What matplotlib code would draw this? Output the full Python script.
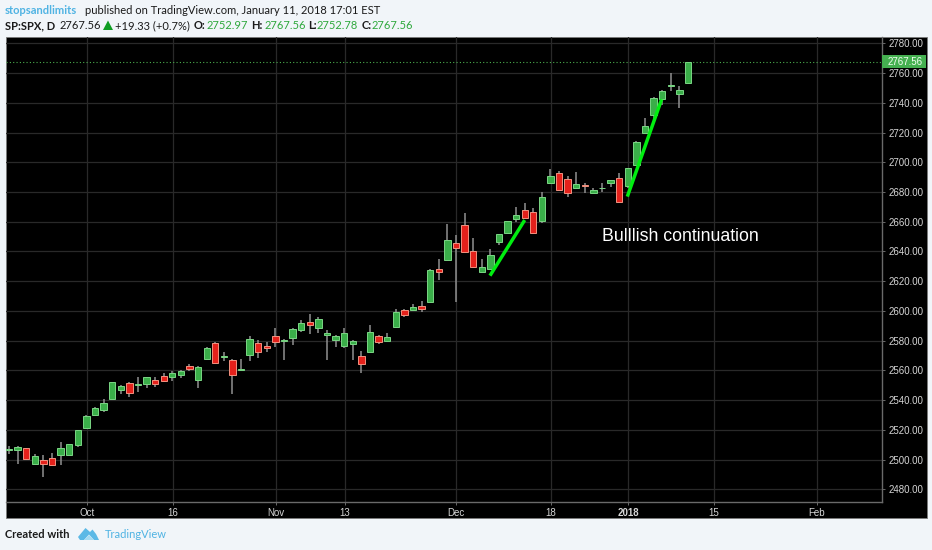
import matplotlib
matplotlib.use("Agg")
import matplotlib.pyplot as plt
from matplotlib.patches import Rectangle, Polygon
import numpy as np

# ---- data (daily candles) ----
opens = [2506.5, 2506.7, 2507.6, 2497.3, 2499.5, 2501.0, 2503.1, 2503.3, 2509.8, 2521.2,
         2530.2, 2533.1, 2540.7, 2547.0, 2551.5, 2550.4, 2550.8, 2553.3, 2556.2, 2555.3,
         2557.1, 2562.9, 2553.7, 2567.4, 2578.2, 2569.0, 2566.8, 2560.2, 2570.3, 2578.2,
         2576.6, 2583.3, 2579.8, 2582.0, 2587.2, 2592.3, 2588.7, 2583.8, 2580.2, 2576.6,
         2578.0, 2569.4, 2572.6, 2583.3, 2579.5, 2589.0, 2600.6, 2600.4, 2603.3, 2605.8,
         2628.2, 2634.2, 2645.5, 2657.6, 2640.1, 2626.0, 2628.2, 2646.6, 2652.2, 2661.8,
         2667.9, 2666.3, 2660.2, 2685.8, 2693.0, 2688.5, 2682.9, 2684.5, 2679.5, 2682.5,
         2686.3, 2689.4, 2684.0, 2698.2, 2719.5, 2731.6, 2742.8, 2751.6, 2745.7, 2753.0]
highs = [2509.1, 2509.4, 2508.0, 2503.5, 2502.9, 2504.2, 2512.0, 2510.6, 2520.0, 2530.0,
         2535.2, 2540.5, 2552.5, 2550.0, 2552.0, 2555.8, 2555.8, 2555.8, 2558.0, 2559.6,
         2560.0, 2564.0, 2562.7, 2575.7, 2579.0, 2572.1, 2567.7, 2567.4, 2583.3, 2580.4,
         2578.9, 2588.7, 2580.9, 2588.3, 2593.9, 2597.7, 2595.7, 2587.2, 2584.0, 2588.3,
         2580.4, 2573.0, 2590.5, 2583.5, 2585.4, 2601.5, 2601.3, 2604.4, 2606.7, 2628.0,
         2635.0, 2658.5, 2651.0, 2665.6, 2648.8, 2634.7, 2641.6, 2651.8, 2660.8, 2670.1,
         2672.4, 2669.0, 2679.8, 2695.2, 2694.3, 2691.0, 2693.2, 2685.8, 2682.9, 2685.8,
         2688.0, 2692.5, 2696.0, 2714.5, 2729.5, 2743.6, 2748.4, 2759.8, 2751.3, 2767.56]
lows = [2503.7, 2497.0, 2499.7, 2497.0, 2488.5, 2495.7, 2496.4, 2503.0, 2508.7, 2520.8,
        2529.3, 2532.2, 2540.5, 2544.1, 2541.9, 2545.7, 2548.4, 2549.0, 2552.4, 2553.1,
        2555.0, 2559.8, 2548.4, 2567.0, 2565.0, 2566.5, 2544.1, 2560.0, 2566.3, 2568.6,
        2572.6, 2575.5, 2567.0, 2577.1, 2586.0, 2584.7, 2585.4, 2567.0, 2576.0, 2574.8,
        2567.0, 2558.5, 2572.6, 2578.0, 2578.9, 2588.7, 2596.0, 2600.2, 2599.5, 2605.5,
        2620.8, 2634.2, 2606.2, 2639.4, 2628.6, 2626.0, 2627.5, 2644.5, 2652.0, 2660.0,
        2662.3, 2651.7, 2659.3, 2685.8, 2681.3, 2676.8, 2682.4, 2679.1, 2679.1, 2679.8,
        2683.6, 2673.5, 2682.4, 2697.7, 2719.4, 2727.0, 2738.5, 2748.1, 2736.7, 2752.78]
closes = [2507.2, 2508.7, 2500.6, 2502.2, 2496.8, 2496.6, 2507.6, 2510.3, 2519.7, 2529.5,
          2534.7, 2538.3, 2552.2, 2549.7, 2545.0, 2550.7, 2555.5, 2550.6, 2553.1, 2558.0,
          2559.8, 2561.1, 2562.5, 2575.3, 2565.2, 2569.5, 2557.1, 2560.7, 2580.9, 2572.6,
          2574.8, 2579.1, 2580.1, 2588.0, 2591.6, 2590.7, 2594.6, 2585.4, 2582.9, 2584.9,
          2579.5, 2564.5, 2585.6, 2578.9, 2582.2, 2599.0, 2597.2, 2602.4, 2601.3, 2627.5,
          2626.0, 2647.7, 2642.3, 2639.4, 2629.5, 2629.8, 2637.4, 2651.7, 2660.5, 2664.5,
          2662.7, 2652.2, 2676.4, 2690.5, 2681.5, 2679.5, 2685.1, 2683.8, 2681.1, 2682.9,
          2687.8, 2673.5, 2695.9, 2713.4, 2724.2, 2743.4, 2748.1, 2751.8, 2748.6, 2767.56]

y_ticks = [2480, 2500, 2520, 2540, 2560, 2580, 2600, 2620, 2640, 2660,
           2680, 2700, 2720, 2740, 2760, 2780]
x_ticks = [9.1, 19.1, 31.05, 39.05, 52.05, 63.05, 72.05, 82, 94]
x_labels = ["Oct", "16", "Nov", "13", "Dec", "18", "2018", "15", "Feb"]
last_price = 2767.56
trend_x = [[55.96, 60.0], [71.94, 75.93]]
trend_y = [[2623.7, 2661.1], [2676.9, 2742.3]]

# ---- layout ----
W, H = 932, 550
BG = "#f1f5f9"
UP, UP_EDGE = "#3aae49", "#7ad684"
DN, DN_EDGE = "#e4211b", "#f29280"
WICK = "#909090"
AXC = "#6a6a6a"
GRID = "#292929"
LBL = "#d6d6d6"
SANS = "Lato"
ARIAL = "Liberation Sans"

fig = plt.figure(figsize=(W / 100, H / 100), dpi=100, facecolor=BG)

# pixel-space layers
under = fig.add_axes([0, 0, 1, 1], zorder=0)
under.set_xlim(0, W); under.set_ylim(H, 0); under.axis("off")
under.add_patch(Rectangle((5.5, 37), 921, 481, fc="black", ec="#7a7a7a", lw=0.6))

AX_L, AX_R, AX_T, AX_B = 5.5, 882, 37.3, 502.3
ax = fig.add_axes([AX_L / W, 1 - AX_B / H, (AX_R - AX_L) / W, (AX_B - AX_T) / H], zorder=1)
ax.set_facecolor("none")
ax.set_xlim((AX_L - 9) / 8.595, (AX_R - 9) / 8.595)
ax.set_ylim(2780 - (AX_B - 43.3) / 1.4867, 2780 + (43.3 - AX_T) / 1.4867)

ax.yaxis.tick_right()
ax.set_yticks(y_ticks)
ax.set_yticklabels([f"{v:.2f}" for v in y_ticks], fontsize=7.0, color=LBL, family=ARIAL)
ax.set_xticks(x_ticks)
ax.set_xticklabels(x_labels, fontsize=7.0, color=LBL, family=ARIAL)
for lab in ax.get_xticklabels():
    if lab.get_text() == "2018":
        lab.set_fontweight("bold")
ax.tick_params(axis="y", length=2.2, width=0.7, color=AXC, pad=2.5)
ax.tick_params(axis="x", length=2.2, width=0.7, color=AXC, pad=2.2)
ax.grid(True, color=GRID, lw=0.9)
ax.set_axisbelow(True)
for s in ("top", "left"):
    ax.spines[s].set_visible(False)
for s in ("right", "bottom"):
    ax.spines[s].set_color(AXC)
    ax.spines[s].set_linewidth(1.0)

# candles
idx = np.arange(len(closes))
o, h, l, c = map(np.array, (opens, highs, lows, closes))
up = c >= o
ax.vlines(idx, l, h, color=WICK, lw=1.1, zorder=3)
ax.bar(idx[up], (c - o)[up], bottom=o[up], width=0.74, color=UP, edgecolor=UP_EDGE, lw=0.7, zorder=4)
ax.bar(idx[~up], (c - o)[~up], bottom=o[~up], width=0.74, color=DN, edgecolor=DN_EDGE, lw=0.7, zorder=4)

# trend lines and last price line
for tx, ty in zip(trend_x, trend_y):
    ax.plot(tx, ty, color="#00ee10", lw=2.5, solid_capstyle="butt", zorder=5)
ax.axhline(last_price, color="#4caf50", lw=0.8, ls=(0, (1, 2)), zorder=2)

# overlay pixel-space items
top = fig.add_axes([0, 0, 1, 1], zorder=2)
top.set_facecolor("none")
top.set_xlim(0, W); top.set_ylim(H, 0); top.axis("off")

top.text(602, 236.5, "Bulllish continuation", color="white", fontsize=12.8, family=ARIAL, va="center", ha="left")

top.add_patch(Rectangle((882, 55), 44, 13.3, fc="#45b050", ec="none"))
top.text(887.7, 61.8, f"{last_price:.2f}", color="#f2fff2", fontsize=7.0, family=ARIAL, va="center", ha="left")

def t(x, y, s, size, color="#1a1a1a", weight="normal"):
    return top.text(x, y, s, color=color, fontsize=size, family=SANS, fontweight=weight, va="center", ha="left")

def fit_size(s, width_px, start=9.0):
    # font size at which s is width_px wide
    probe = top.text(0, 0, s, fontsize=start, family=SANS)
    w = probe.get_window_extent(fig.canvas.get_renderer()).width
    probe.remove()
    return start * width_px / w

BLUE = "#4fb3e3"
GREEN = "#2ea83c"
line1 = "published on TradingView.com, January 11, 2018 17:01 EST"
fs = fit_size(line1, 294)
t(5, 10, "stopsandlimits", fs, color=BLUE, weight="bold")
t(85, 10, line1, fs)
t(5, 25.5, "SP:SPX, D", fs, weight="bold")
t(60, 25.5, "2767.56", fs)
top.add_patch(Polygon([(103, 30), (113, 30), (108, 20.5)], fc="#0f9d23", ec="none"))
t(115, 25.5, "+19.33 (+0.7%)", fs)
for xl, lb, xv, val in [(194, "O:", 207, "2752.97"), (251, "H:", 265, "2767.56"),
                        (308, "L:", 317, "2752.78"), (362, "C:", 372, "2767.56")]:
    t(xl, 25.5, lb, fs, weight="bold")
    t(xv, 25.5, val, fs, color=GREEN)

fs2 = fit_size("TradingView", 62)
t(5, 535, "Created with", fs2, weight="bold")
t(105, 535, "TradingView", fs2, color=BLUE)
top.add_patch(Polygon([(78, 537), (85.5, 528), (90, 532), (92.5, 529.5), (96, 534), (99, 540), (94, 540),
                       (89, 534.5), (84, 540), (80, 540)], fc="#5cb9e6", ec="none"))
top.add_patch(Polygon([(84, 540), (89, 535), (94, 540)], fc="#a6dcf3", ec="none"))

fig.savefig("out.png", dpi=100, facecolor=BG)
